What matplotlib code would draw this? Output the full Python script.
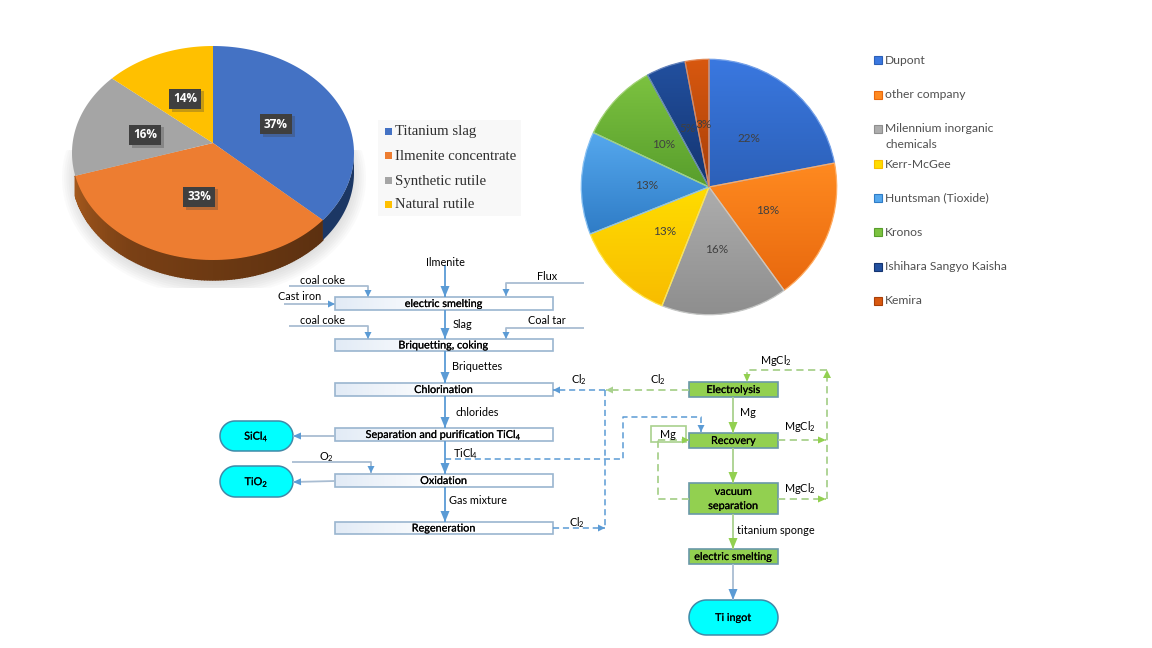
import numpy as np
import matplotlib
matplotlib.use('Agg')
import matplotlib.pyplot as plt
from matplotlib.colors import LinearSegmentedColormap, to_rgb
from matplotlib.patches import Rectangle, Wedge
import matplotlib.patheffects as pe

plt.rcParams['font.family'] = ['Lato', 'DejaVu Sans']
plt.rcParams['mathtext.default'] = 'regular'

# raw material shares (left pie)
feed_names  = ['Titanium slag', 'Ilmenite concentrate', 'Synthetic rutile', 'Natural rutile']
feed_shares = [37, 33, 16, 14]
feed_colors = ['#4472c4', '#ed7d31', '#a5a5a5', '#ffc000']

# producer shares (right pie)
prod_names  = ['Dupont', 'other company', 'Milennium inorganic\nchemicals', 'Kerr-McGee',
               'Huntsman (Tioxide)', 'Kronos', 'Ishihara Sangyo Kaisha', 'Kemira']
prod_shares = [22, 18, 16, 13, 13, 10, 5, 3]
prod_light  = ['#3a78e0', '#ff8a20', '#adadad', '#ffdc00', '#55a8ee', '#7cc240', '#22509f', '#d8580f']
prod_dark   = ['#2c60b8', '#e8680e', '#8e8e8e', '#f8bc00', '#2f7cc6', '#589e2c', '#143470', '#a83f08']

BLUE  = '#5b9bd5'
PALE  = '#a9bdd2'
GREEN = '#92d050'
LGRN  = '#a9d18e'
CYAN  = '#00ffff'

fig = plt.figure(figsize=(11.52, 6.48), dpi=100)
ax = fig.add_axes([0, 0, 1, 1])
ax.set_xlim(0, 1152)
ax.set_ylim(648, 0)
ax.axis('off')


# --- left pie, faked perspective ---
def rim(a, b, n=80):
    th = np.radians(np.linspace(a, b, n))
    t = th - np.radians(6) * np.sin(th)
    return 213 + 141 * np.sin(t), 153 - 107 * np.cos(t)


# soft shadow behind the pie
for i in range(10):
    t = np.linspace(0, 2 * np.pi, 200)
    xs = 214 + (152 - i * 2.2) * np.sin(t)
    ys = 178 + (118 - i * 2.2) * np.cos(t)
    ys = np.clip(ys, 150, 288)
    ax.fill(xs, ys, color='#707070', alpha=0.03, lw=0, zorder=1)

edges = np.cumsum([0] + feed_shares) * 3.6
side_cmap = LinearSegmentedColormap.from_list('side', ['#a4591d', '#7a4015', '#6a3812', '#5c3010'])

# sides first
xs, ys = rim(edges[1], edges[2], 120)
for j in range(len(xs) - 1):
    ax.fill([xs[j], xs[j + 1], xs[j + 1], xs[j]], [ys[j], ys[j + 1], ys[j + 1] + 20, ys[j] + 20],
            color=side_cmap(1 - j / 119), lw=1.0, zorder=2)
xs, ys = rim(95, edges[1], 40)
ax.fill(np.r_[xs, xs[::-1]], np.r_[ys, ys[::-1] + 20], color='#1c3764', lw=0, zorder=2)

for k, col in enumerate(feed_colors):
    xs, ys = rim(edges[k], edges[k + 1])
    ax.fill(np.r_[213, xs], np.r_[143, ys], color=col, lw=0, zorder=3)

feed_label_xy = [(276, 124), (199, 197), (145, 135), (185, 99)]
for share, (lx, ly) in zip(feed_shares, feed_label_xy):
    ax.add_patch(Rectangle((lx - 13, ly - 8), 32, 21, color='#404040', alpha=0.3, lw=0, zorder=4))
    ax.add_patch(Rectangle((lx - 16, ly - 10), 32, 20, color='#3f3f3f', lw=0, zorder=5))
    ax.text(lx, ly, f'{share}%', color='white', family='Open Sans', fontsize=8.5, fontweight='bold',
            ha='center', va='center', zorder=6)

# left legend
ax.add_patch(Rectangle((378, 120), 143, 96, color='#f8f8f8', lw=0, zorder=1))
for name, col, ly in zip(feed_names, feed_colors, [131, 155, 180, 204]):
    ax.add_patch(Rectangle((385, ly - 3.5), 7, 7, color=col, lw=0, zorder=2))
    ax.text(395, ly + 1, name, family='Liberation Serif', fontsize=10.6, color='#303030',
            va='center', ha='left', zorder=2)

# --- right pie ---
pie_ax = fig.add_axes([580 / 1152, (648 - 187 - 129) / 648, 258 / 1152, 258 / 648])
wedges, _, pct = pie_ax.pie(prod_shares, startangle=90, counterclock=False, radius=1,
                            autopct='%.0f%%', pctdistance=0.49,
                            textprops=dict(color='#404040', fontsize=8.5))
grad = np.linspace(0, 1, 256).reshape(-1, 1)
for w, c0, c1 in zip(wedges, prod_light, prod_dark):
    cm = LinearSegmentedColormap.from_list('g', [c0, c1])
    bb = w.get_path().get_extents(w.get_patch_transform())
    im = pie_ax.imshow(grad, extent=(bb.x0, bb.x1, bb.y0, bb.y1), cmap=cm, aspect='auto',
                       origin='upper', zorder=1.5)
    im.set_clip_path(w)
    edge = tuple(min(1, v * 0.7 + 0.3) for v in to_rgb(c0))
    pie_ax.add_patch(Wedge(w.center, w.r, w.theta1, w.theta2, fc='none', ec=edge, lw=0.9, zorder=2))
pie_ax.set_xlim(-1.01, 1.01)
pie_ax.set_ylim(-1.01, 1.01)
pie_ax.axis('off')

legend_y = [60, 95, 129, 164, 198, 232, 267, 301]
for name, c0, c1, ly in zip(prod_names, prod_light, prod_dark, legend_y):
    ax.add_patch(Rectangle((874, ly - 4), 8, 8, fc=c0, ec=c1, lw=0.8, zorder=2))
    ax.text(885, ly, name.split('\n')[0], fontsize=8.7, color='#505050', va='center', zorder=2)
    if '\n' in name:
        ax.text(885, ly + 16, name.split('\n')[1], fontsize=8.7, color='#505050', va='center', zorder=2)

THICK = [pe.withStroke(linewidth=0.12, foreground='black')]


# --- flow chart helpers ---
def flow(pts, line=BLUE, head=None, dashed=False, lw=1.3, hl=11, hw=4.5):
    pts = np.array(pts, dtype=float)
    ax.plot(pts[:, 0], pts[:, 1], color=line, lw=lw, ls=(0, (4, 2.5)) if dashed else '-',
            solid_capstyle='butt', zorder=3)
    if head is None:
        return
    d = pts[-1] - pts[-2]
    d = d / np.hypot(*d)
    n = np.array([-d[1], d[0]])
    base = pts[-1] - d * hl
    tri = np.array([pts[-1], base + n * hw, base - n * hw])
    ax.fill(tri[:, 0], tri[:, 1], color=head, lw=0, zorder=4)


def box_label(x0, y0, x1, y1, label):
    ax.text((x0 + x1) / 2, (y0 + y1) / 2, label, fontsize=7.8, color='black',
            ha='center', va='center', linespacing=1.35, zorder=5, path_effects=THICK)


def box(x0, y0, x1, y1, label):
    fade = LinearSegmentedColormap.from_list('fade', ['#e2ebf6', '#ffffff', '#ffffff'])
    ax.imshow(np.linspace(0, 1, 128).reshape(1, -1), extent=(x0, x1, y1, y0), cmap=fade,
              aspect='auto', zorder=2)
    ax.add_patch(Rectangle((x0, y0), x1 - x0, y1 - y0, fc='none', ec='#9ab5cf', lw=1.2, zorder=3))
    box_label(x0, y0, x1, y1, label)


def gbox(x0, y0, x1, y1, label):
    ax.add_patch(Rectangle((x0, y0), x1 - x0, y1 - y0, fc=GREEN, ec='#6a98a8', lw=1.2, zorder=3))
    box_label(x0, y0, x1, y1, label)


def pill(x0, y0, x1, y1, label):
    r = (y1 - y0) / 2
    t = np.linspace(-np.pi / 2, np.pi / 2, 40)
    xs = np.r_[x1 - r + r * np.cos(t), x0 + r - r * np.cos(t)]
    ys = np.r_[y0 + r + r * np.sin(t), y0 + r - r * np.sin(t)]
    ax.fill(xs, ys, fc=CYAN, ec='#3f8aa8', lw=1.1, zorder=3)
    box_label(x0, y0, x1, y1, label)


def note(x, y, s):
    ax.text(x, y, s, fontsize=7.8, color='black', ha='center', va='center', zorder=6)


# left column boxes
box(335, 297, 553, 310, 'electric smelting')
box(335, 339, 553, 351, 'Briquetting, coking')
box(335, 383, 553, 396, 'Chlorination')
box(335, 428, 553, 441, 'Separation and purification TiCl$_4$')
box(335, 474, 553, 487, 'Oxidation')
box(335, 522, 553, 534, 'Regeneration')

pill(220, 421, 293, 451, 'SiCl$_4$')
pill(220, 466, 293, 497, 'TiO$_2$')

# main line
flow([(445, 265), (445, 297)], head=BLUE)
flow([(445, 310), (445, 339)], head=BLUE)
flow([(445, 351), (445, 383)], head=BLUE)
flow([(445, 396), (445, 428)], head=BLUE)
flow([(445, 441), (445, 474)], head=BLUE)
flow([(445, 487), (445, 522)], head=BLUE)

# side feeds
flow([(289, 286), (368, 286), (368, 297)], PALE, BLUE, hl=7, hw=3.5)
flow([(289, 326), (368, 326), (368, 339)], PALE, BLUE, hl=7, hw=3.5)
flow([(284, 304), (335, 304)], PALE, BLUE, hl=7, hw=3.5)
flow([(584, 283), (506, 283), (506, 296)], PALE, BLUE, hl=7, hw=3.5)
flow([(584, 328), (506, 328), (506, 339)], PALE, BLUE, hl=7, hw=3.5)
flow([(292, 462), (371, 462), (371, 473)], PALE, BLUE, hl=7, hw=3.5)
flow([(335, 436), (293, 436)], PALE, BLUE, hl=8, hw=3.5)
flow([(335, 481), (293, 482)], PALE, BLUE, hl=8, hw=3.5)

# chlorine recycle and TiCl4 transfer
flow([(605, 390), (553, 390)], BLUE, BLUE, dashed=True, lw=1.1, hl=7, hw=3.5)
flow([(605, 390), (605, 528)], BLUE, dashed=True, lw=1.1)
flow([(553, 528), (605, 528)], BLUE, BLUE, dashed=True, lw=1.1, hl=7, hw=3.5)
flow([(445, 459), (623, 459), (623, 417), (701, 417), (701, 432)], BLUE, BLUE, dashed=True, lw=1.1, hl=7, hw=3.5)

# magnesium loop
gbox(689, 382, 778, 397, 'Electrolysis')
gbox(689, 433, 778, 448, 'Recovery')
gbox(689, 483, 778, 514, 'vacuum\nseparation')
gbox(689, 549, 778, 564, 'electric smelting')
pill(689, 600, 778, 635, 'Ti ingot')
ax.add_patch(Rectangle((651, 426), 35, 16, fc='white', ec=LGRN, lw=1.2, zorder=2))

flow([(733, 397), (733, 433)], LGRN, GREEN)
flow([(733, 448), (733, 483)], LGRN, GREEN)
flow([(733, 514), (733, 549)], LGRN, GREEN)
flow([(733, 564), (733, 600)], PALE, BLUE)

flow([(689, 390), (606, 390)], LGRN, LGRN, dashed=True, hl=7, hw=3.5)
flow([(658, 440), (689, 440)], LGRN, GREEN, dashed=True, hl=7, hw=3.5)
flow([(689, 499), (658, 499), (658, 440)], LGRN, dashed=True)
flow([(778, 440), (826, 440)], LGRN, GREEN, dashed=True, hl=8, hw=3.5)
flow([(778, 499), (826, 499)], LGRN, GREEN, dashed=True, hl=8, hw=3.5)
flow([(827, 499), (827, 370)], LGRN, GREEN, dashed=True, hl=8, hw=4)
flow([(827, 370), (747, 370), (747, 382)], LGRN, GREEN, dashed=True, hl=8, hw=3.5)

# stream labels
note(445, 262, 'Ilmenite')
note(323, 281, 'coal coke')
note(300, 296, 'Cast iron')
note(547, 276, 'Flux')
note(462, 324, 'Slag')
note(323, 321, 'coal coke')
note(547, 320, 'Coal tar')
note(477, 367, 'Briquettes')
note(579, 380, 'Cl$_2$')
note(477, 412, 'chlorides')
note(466, 454, 'TiCl$_4$')
note(326, 457, 'O$_2$')
note(478, 501, 'Gas mixture')
note(577, 523, 'Cl$_2$')
note(658, 380, 'Cl$_2$')
note(776, 361, 'MgCl$_2$')
note(748, 413, 'Mg')
note(800, 427, 'MgCl$_2$')
note(800, 489, 'MgCl$_2$')
note(668, 434, 'Mg')
note(776, 531, 'titanium sponge')

ax.set_xlim(0, 1152)
ax.set_ylim(648, 0)
fig.savefig('out.png', dpi=100)
